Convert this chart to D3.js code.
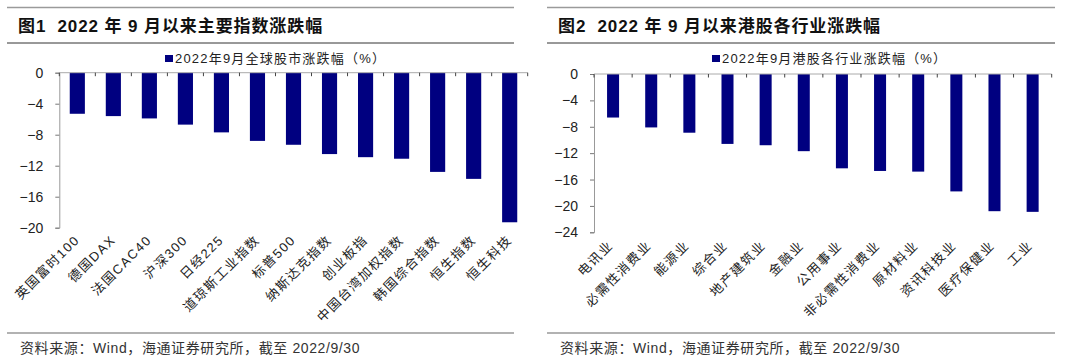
<!DOCTYPE html>
<html>
<head>
<meta charset="utf-8">
<script src="https://cdn.jsdelivr.net/npm/d3@7"></script>
<style>
  body { margin: 0; background: #fff; }
  svg { display: block; font-family: "Liberation Sans", Arial, "Noto Sans CJK SC", sans-serif; }
  .title { white-space: pre; }
</style>
</head>
<body>
<svg id="chart" width="1080" height="363"></svg>
<script>
// 图1 全球主要指数
const indexNames = ["英国富时100", "德国DAX", "法国CAC40", "沪深300", "日经225", "道琼斯工业指数",
  "标普500", "纳斯达克指数", "创业板指", "中国台湾加权指数", "韩国综合指数", "恒生指数", "恒生科技"];
const indexChange = [-5.3, -5.6, -5.9, -6.7, -7.7, -8.8, -9.3, -10.5, -10.9, -11.1, -12.8, -13.7, -19.3];
const indexTicks = [0, -4, -8, -12, -16, -20];

// 图2 港股行业
const sectorNames = ["电讯业", "必需性消费业", "能源业", "综合业", "地产建筑业", "金融业",
  "公用事业", "非必需性消费业", "原材料业", "资讯科技业", "医疗保健业", "工业"];
const sectorChange = [-6.6, -8.1, -8.9, -10.6, -10.8, -11.7, -14.3, -14.7, -14.8, -17.8, -20.8, -20.9];
const sectorTicks = [0, -4, -8, -12, -16, -20, -24];

const svg = d3.select("#chart");
const barColor = "#000080";

function drawPanel(p) {
  const g = svg.append("g");

  // header rules and title
  g.append("line").attr("x1", p.left).attr("x2", p.right).attr("y1", 7.5).attr("y2", 7.5)
    .attr("stroke", "#9a9a9a").attr("stroke-width", 1.5);
  g.append("line").attr("x1", p.left).attr("x2", p.right).attr("y1", 43).attr("y2", 43)
    .attr("stroke", "#333").attr("stroke-width", 1);
  g.append("text").attr("class", "title").attr("x", p.left + 11).attr("y", 32)
    .attr("font-size", 17).attr("font-weight", "bold").attr("fill", "#111")
    .attr("letter-spacing", 0.9)
    .text(p.title);

  // legend
  g.append("rect").attr("x", p.legendX).attr("y", 55).attr("width", 8).attr("height", 7).attr("fill", barColor);
  g.append("text").attr("x", p.legendX + 10).attr("y", 62.5)
    .attr("font-size", 13).attr("fill", "#222").attr("letter-spacing", 1.2)
    .text(p.legend);

  const x = d3.scaleBand().domain(p.cats).range([p.x0, p.x1])
    .paddingInner(p.pad).paddingOuter(p.pad / 2);
  const y = d3.scaleLinear().domain([p.ymin, 0]).range([p.yBottom, p.yTop]);

  // y axis
  const yAxis = g.append("g").attr("transform", `translate(${p.x0},0)`)
    .call(d3.axisLeft(y).tickValues(p.ticks).tickSize(4).tickPadding(12));
  yAxis.select(".domain").attr("stroke", "#999");
  yAxis.selectAll(".tick line").attr("stroke", "#777");
  yAxis.selectAll(".tick text").attr("font-size", 14).attr("fill", "#222")
    .attr("font-family", "Liberation Sans, Arial, sans-serif");

  // bars
  g.selectAll("rect.bar").data(p.values).join("rect")
    .attr("class", "bar")
    .attr("x", (d, i) => x(p.cats[i]))
    .attr("width", x.bandwidth())
    .attr("y", y(0))
    .attr("height", d => y(d) - y(0))
    .attr("fill", barColor);

  // zero line with category boundary ticks
  g.append("line").attr("x1", p.x0).attr("x2", p.x1).attr("y1", y(0)).attr("y2", y(0))
    .attr("stroke", "#aaa").attr("stroke-width", 1);
  const bounds = d3.range(p.cats.length + 1).map(i => p.x0 + i * x.step());
  g.selectAll("line.xt").data(bounds).join("line")
    .attr("class", "xt")
    .attr("x1", d => d).attr("x2", d => d)
    .attr("y1", y(0)).attr("y2", y(0) + 3.5)
    .attr("stroke", "#444");

  // category labels, rotated
  g.selectAll("text.cat").data(p.cats).join("text")
    .attr("class", "cat")
    .attr("transform", d => `translate(${x(d) + x.bandwidth() / 2 + p.labelDx},${p.yBottom + p.labelDy}) rotate(-45)`)
    .attr("text-anchor", "end")
    .attr("font-size", 13).attr("fill", "#222").attr("letter-spacing", 1.5)
    .text(d => d);

  // footer
  g.append("line").attr("x1", p.left).attr("x2", p.right).attr("y1", 333).attr("y2", 333)
    .attr("stroke", "#999").attr("stroke-width", 1.5);
  g.append("text").attr("x", p.left + 13).attr("y", 353)
    .attr("font-size", 14).attr("fill", "#333").attr("letter-spacing", 0.6)
    .text("资料来源：Wind，海通证券研究所，截至 2022/9/30");
}

drawPanel({
  left: 7, right: 514,
  title: "图1  2022 年 9 月以来主要指数涨跌幅",
  legend: "2022年9月全球股市涨跌幅（%）", legendX: 165,
  cats: indexNames, values: indexChange, ticks: indexTicks, ymin: -20,
  x0: 59.3, x1: 527.7, yTop: 72.7, yBottom: 227.7, pad: 0.58,
  labelDx: 3, labelDy: 13
});

drawPanel({
  left: 547, right: 1055,
  title: "图2  2022 年 9 月以来港股各行业涨跌幅",
  legend: "2022年9月港股各行业涨跌幅（%）", legendX: 712,
  cats: sectorNames, values: sectorChange, ticks: sectorTicks, ymin: -24,
  x0: 594, x1: 1051.7, yTop: 74, yBottom: 232.3, pad: 0.685,
  labelDx: 1, labelDy: 14
});
</script>
</body>
</html>
